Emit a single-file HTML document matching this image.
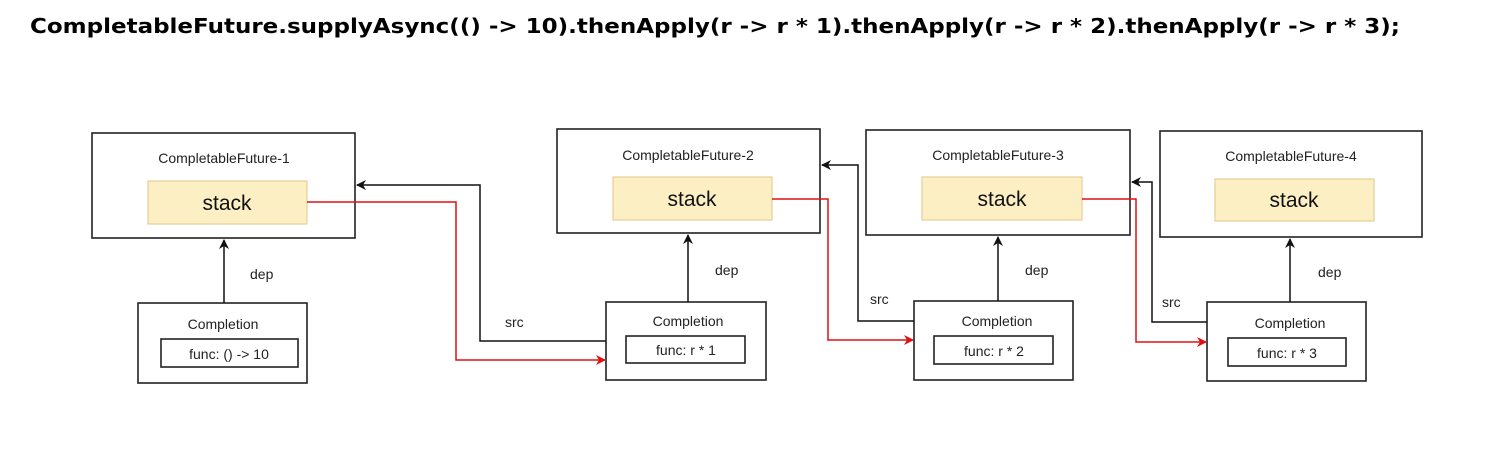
<!DOCTYPE html>
<html><head><meta charset="utf-8"><style>
html,body{margin:0;padding:0;background:#fff;}
svg{display:block;}
</style></head><body>
<svg width="1498" height="451" xmlns="http://www.w3.org/2000/svg" font-family="'Liberation Sans', sans-serif">
<defs>
<marker id="ab" markerWidth="10" markerHeight="10" refX="9" refY="5" orient="auto" markerUnits="userSpaceOnUse"><path d="M0,0 L10,5 L0,10 L3,5 Z" fill="#111"/></marker>
<marker id="ar" markerWidth="10" markerHeight="10" refX="9" refY="5" orient="auto" markerUnits="userSpaceOnUse"><path d="M0,0 L10,5 L0,10 L3,5 Z" fill="#e01010"/></marker>
</defs>
<text x="30" y="33" font-size="20" font-weight="bold" font-family="'DejaVu Sans', sans-serif" textLength="1370" lengthAdjust="spacingAndGlyphs" fill="#000">CompletableFuture.supplyAsync(() -&gt; 10).thenApply(r -&gt; r * 1).thenApply(r -&gt; r * 2).thenApply(r -&gt; r * 3);</text>

<g fill="#fff" stroke="#222" stroke-width="1.6">
<rect x="92" y="133" width="263" height="105"/>
<rect x="557" y="129" width="263" height="104"/>
<rect x="866" y="130" width="264" height="105"/>
<rect x="1160" y="131" width="262" height="106"/>
<rect x="138" y="303" width="169" height="80"/>
<rect x="606" y="302" width="160" height="78"/>
<rect x="914" y="301" width="159" height="79"/>
<rect x="1207" y="302" width="159" height="79"/>
<rect x="161" y="339" width="137" height="28"/>
<rect x="626" y="336" width="119" height="27"/>
<rect x="934" y="336" width="119" height="28"/>
<rect x="1228" y="338" width="118" height="28"/>
</g>
<g fill="#fdefc4" stroke="#e6cf96" stroke-width="1.2">
<rect x="148" y="181" width="159" height="43"/>
<rect x="613" y="177" width="159" height="43"/>
<rect x="922" y="177" width="160" height="43"/>
<rect x="1215" y="179" width="159" height="42"/>
</g>
<g font-size="14" fill="#222" text-anchor="middle">
<text x="224" y="163">CompletableFuture-1</text>
<text x="688" y="160">CompletableFuture-2</text>
<text x="998" y="160">CompletableFuture-3</text>
<text x="1291" y="161">CompletableFuture-4</text>
<text x="223" y="329">Completion</text>
<text x="688" y="326">Completion</text>
<text x="997" y="326">Completion</text>
<text x="1290" y="328">Completion</text>
<text x="229" y="359">func: () -&gt; 10</text>
<text x="686" y="355">func: r * 1</text>
<text x="994" y="356">func: r * 2</text>
<text x="1287" y="358">func: r * 3</text>
</g>
<g font-size="21" fill="#111" text-anchor="middle">
<text x="227" y="210">stack</text>
<text x="692" y="206">stack</text>
<text x="1002" y="206">stack</text>
<text x="1294" y="207">stack</text>
</g>
<g font-size="14" fill="#222">
<text x="250" y="279">dep</text>
<text x="715" y="275">dep</text>
<text x="1025" y="275">dep</text>
<text x="1318" y="277">dep</text>
<text x="505" y="327">src</text>
<text x="870" y="304">src</text>
<text x="1162" y="307">src</text>
</g>
<g fill="none" stroke="#111" stroke-width="1.5">
<line x1="224" y1="303" x2="224" y2="240" marker-end="url(#ab)"/>
<line x1="688" y1="302" x2="688" y2="235" marker-end="url(#ab)"/>
<line x1="998" y1="301" x2="998" y2="237" marker-end="url(#ab)"/>
<line x1="1290" y1="302" x2="1290" y2="239" marker-end="url(#ab)"/>
<polyline points="606,341 480,341 480,185 357,185" marker-end="url(#ab)"/>
<polyline points="914,321 858,321 858,165 822,165" marker-end="url(#ab)"/>
<polyline points="1207,322 1152,322 1152,182 1132,182" marker-end="url(#ab)"/>
</g>
<g fill="none" stroke="#e01010" stroke-width="1.5">
<polyline points="307,202 456,202 456,360 605,360" marker-end="url(#ar)"/>
<polyline points="772,199 828,199 828,340 913,340" marker-end="url(#ar)"/>
<polyline points="1082,199 1136,199 1136,342 1206,342" marker-end="url(#ar)"/>
</g>
</svg>
</body></html>
